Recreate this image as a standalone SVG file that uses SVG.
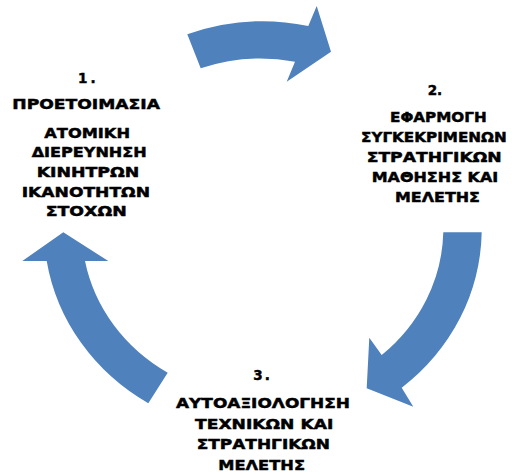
<svg xmlns="http://www.w3.org/2000/svg" width="519" height="475" viewBox="0 0 519 475">
<style>
.arrow{fill:#4F81BD;stroke:none}
.t{font-family:"DejaVu Sans","Liberation Sans",sans-serif;font-weight:bold;font-size:13.5px;fill:#000;stroke:#000;stroke-width:0.45px}
</style>
<rect width="519" height="475" fill="#fff"/>
<g id="connectors">
<path id="arrow-1-2" class="arrow" d="M187.3,34.3 A218,210 0 0 1 308.3,26 L316.7,6 L331,51.7 L286.7,81.7 L295,61.7 A180,172 0 0 0 200.7,68.3 Z"/>
<path id="arrow-2-3" class="arrow" d="M481.7,232.3 A218,205 0 0 1 401.7,387.7 L413.3,406.7 L366.7,388.3 L369.3,337.7 L381.7,355 A180,168 0 0 0 443.3,232.3 Z"/>
<path id="arrow-3-1" class="arrow" d="M46.7,261 A218,205 0 0 0 148.3,403.3 L167.7,372.7 A180,168 0 0 1 85,261 L108.3,261 L63.3,232.3 L22.3,261 Z"/>
</g>
<g id="node1">
<text class="t" x="78" y="83" letter-spacing="3">1.</text>
<text class="t" x="12.3" y="109" textLength="147.7" lengthAdjust="spacingAndGlyphs">ΠΡΟΕΤΟΙΜΑΣΙΑ</text>
<text class="t" x="44.3" y="138.3" textLength="85.7" lengthAdjust="spacingAndGlyphs">ΑΤΟΜΙΚΗ</text>
<text class="t" x="31.7" y="157.3" textLength="115" lengthAdjust="spacingAndGlyphs">ΔΙΕΡΕΥΝΗΣΗ</text>
<text class="t" x="36.7" y="176.7" textLength="102.6" lengthAdjust="spacingAndGlyphs">ΚΙΝΗΤΡΩΝ</text>
<text class="t" x="21.7" y="196.7" textLength="128.3" lengthAdjust="spacingAndGlyphs">ΙΚΑΝΟΤΗΤΩΝ</text>
<text class="t" x="45.7" y="216" textLength="81" lengthAdjust="spacingAndGlyphs">ΣΤΟΧΩΝ</text>
</g>
<g id="node2">
<text class="t" x="427.7" y="95">2.</text>
<text class="t" x="390" y="122" textLength="96.7" lengthAdjust="spacingAndGlyphs">ΕΦΑΡΜΟΓΗ</text>
<text class="t" x="361" y="141.7" textLength="145.7" lengthAdjust="spacingAndGlyphs">ΣΥΓΚΕΚΡΙΜΕΝΩΝ</text>
<text class="t" x="366.7" y="161.7" textLength="135" lengthAdjust="spacingAndGlyphs">ΣΤΡΑΤΗΓΙΚΩΝ</text>
<text class="t" x="371.7" y="181.7" textLength="126.6" lengthAdjust="spacingAndGlyphs">ΜΑΘΗΣΗΣ ΚΑΙ</text>
<text class="t" x="395" y="201.7" textLength="85" lengthAdjust="spacingAndGlyphs">ΜΕΛΕΤΗΣ</text>
</g>
<g id="node3">
<text class="t" x="253.3" y="380" letter-spacing="2">3.</text>
<text class="t" x="176" y="408.3" textLength="174" lengthAdjust="spacingAndGlyphs">ΑΥΤΟΑΞΙΟΛΟΓΗΣΗ</text>
<text class="t" x="195" y="429.3" textLength="138.3" lengthAdjust="spacingAndGlyphs">ΤΕΧΝΙΚΩΝ ΚΑΙ</text>
<text class="t" x="196.7" y="449.3" textLength="133.3" lengthAdjust="spacingAndGlyphs">ΣΤΡΑΤΗΓΙΚΩΝ</text>
<text class="t" x="218.3" y="470" textLength="86.7" lengthAdjust="spacingAndGlyphs">ΜΕΛΕΤΗΣ</text>
</g>
</svg>
